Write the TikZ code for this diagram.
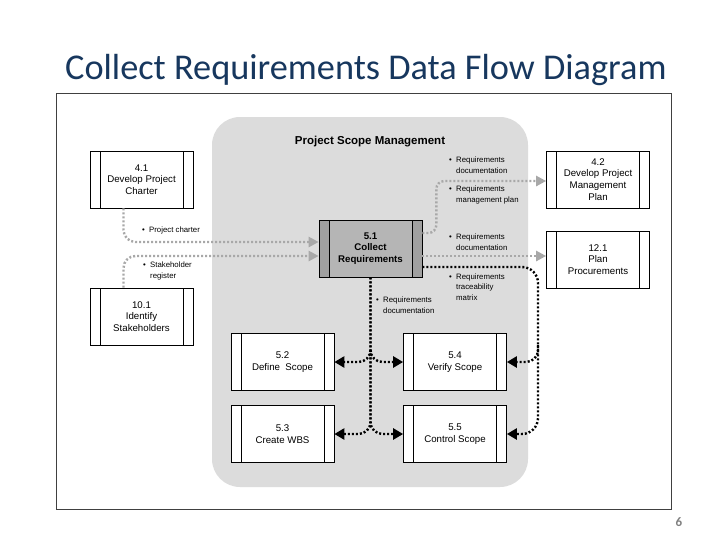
\documentclass[tikz,border=0pt]{standalone}
\usepackage{fontspec}
\setmainfont{Liberation Sans}
\newfontfamily\titlefont{Carlito}
\usetikzlibrary{arrows.meta}
\definecolor{titleblue}{HTML}{17375E}
\definecolor{arrowgray}{HTML}{A8A8A8}
\definecolor{regiongray}{HTML}{DCDCDC}
\definecolor{mainfill}{HTML}{B5B5B5}
\definecolor{stripfill}{HTML}{A0A0A0}
\newcommand\bul{\makebox[7pt][l]{\textbullet}}
\newcommand\ind{\hspace*{7pt}}
\begin{document}
\begin{tikzpicture}[x=1pt,y=-1pt,
  proc/.style={draw=black, line width=0.7pt, fill=white, minimum width=103pt,
    minimum height=57pt, inner sep=0pt, align=center,
    font=\fontsize{9.7}{11.7}\selectfont,
    path picture={
      \draw[line width=0.5pt] ([xshift=10pt]path picture bounding box.north west) -- ([xshift=10pt]path picture bounding box.south west);
      \draw[line width=0.5pt] ([xshift=-10pt]path picture bounding box.north east) -- ([xshift=-10pt]path picture bounding box.south east);
    }},
  mainproc/.style={draw=black, line width=0.7pt, fill=mainfill, minimum width=103pt,
    minimum height=57pt, inner sep=0pt, align=center,
    font=\bfseries\fontsize{9.7}{11.7}\selectfont,
    path picture={
      \fill[stripfill] (path picture bounding box.north west) rectangle ([xshift=10pt]path picture bounding box.south west);
      \fill[stripfill] (path picture bounding box.north east) rectangle ([xshift=-10pt]path picture bounding box.south east);
      \draw[line width=0.5pt] ([xshift=10pt]path picture bounding box.north west) -- ([xshift=10pt]path picture bounding box.south west);
      \draw[line width=0.5pt] ([xshift=-10pt]path picture bounding box.north east) -- ([xshift=-10pt]path picture bounding box.south east);
    }},
  lab/.style={font=\fontsize{7.8}{10.5}\selectfont, align=left, anchor=west, inner sep=0pt, text=black},
  gline/.style={draw=arrowgray, line width=2.4pt, dash pattern=on 2pt off 2pt, rounded corners=12pt,
    -{Triangle[length=10pt,width=10pt,fill=arrowgray]}},
  bline/.style={draw=black, line width=2.4pt, dash pattern=on 2pt off 2pt, rounded corners=12pt,
    -{Triangle[length=10pt,width=11pt]}}
]
\useasboundingbox[fill=white] (0,0) rectangle (728,546);

% title
\node[font=\titlefont\fontsize{36.3}{40}\selectfont, text=titleblue, anchor=base west, inner sep=0pt] (title) at (65,79.5) {Collect Requirements Data Flow Diagram};

% frame
\draw[line width=1pt, draw=black!75] (56.5,93.5) rectangle (671.5,509);

% page number
\node[font=\titlefont\bfseries\fontsize{13}{15}\selectfont, text=black!50, anchor=base, inner sep=0pt] (pg) at (679,526) {6};

% gray region
\fill[regiongray, rounded corners=28pt] (212,117) rectangle (528,487);
\node[font=\bfseries\fontsize{11.5}{13}\selectfont, inner sep=0pt] (psm) at (370,142) {Project Scope Management};

% boxes
\node[proc] (n41) at (141.5,179.5) {4.1\\Develop Project\\Charter};
\node[proc] (n101) at (141.5,316.5) {10.1\\Identify\\Stakeholders};
\node[mainproc] (n51) at (370.5,248.5) {5.1\\Collect\\Requirements};
\node[proc] (n42) at (598,179.5) {4.2\\Develop Project\\Management\\Plan};
\node[proc] (n121) at (598,259.5) {12.1\\Plan\\Procurements};
\node[proc] (n52) at (282.5,362) {5.2\\Define\ \ Scope};
\node[proc] (n53) at (282.5,434) {5.3\\Create WBS};
\node[proc] (n54) at (455,362) {5.4\\Verify Scope};
\node[proc] (n55) at (455,434) {5.5\\Control Scope};

% gray inputs
\draw[gline] ([xshift=-18pt]n41.south) |- ([yshift=6.5pt]n51.west);
\draw[gline] ([xshift=-18pt]n101.north) |- ([yshift=-7.5pt]n51.west);
% gray outputs
\draw[gline, rounded corners=8pt] ([yshift=15.5pt]n51.east) -- ++(14,0) |- ([yshift=-1.5pt]n42.west);
\coordinate (g2) at ([yshift=-7.5pt]n51.east);
\draw[gline] (g2) -- (g2 -| n121.west);

% traceability (black)
\coordinate (tv) at (538,345);
\draw[bline, rounded corners=16pt] ([yshift=-18.5pt]n51.east) -| (tv) |- (n55.east);
\draw[bline] (tv) |- (n54.east);

% documentation (black, centre)
\coordinate (cv) at (370.5,350);
\draw[bline] (n51.south) |- (n53.east);
\draw[bline] (n51.south) |- (n55.west);
\draw[bline] (cv) |- (n52.east);
\draw[bline] (cv) |- (n54.west);

% labels
\node[lab] (l1) at (142,230) {\bul Project charter};
\node[lab] (l2) at (143,271) {\bul Stakeholder\\\ind register};
\node[lab] (l3) at (449,165) {\bul Requirements\\\ind documentation};
\node[lab] (l4) at (449,195) {\bul Requirements\\\ind management plan};
\node[lab] (l5) at (449,242) {\bul Requirements\\\ind documentation};
\node[lab] (l6) at (449,287) {\bul Requirements\\\ind traceability\\\ind matrix};
\node[lab] (l7) at (376,305) {\bul Requirements\\\ind documentation};
\end{tikzpicture}
\end{document}
